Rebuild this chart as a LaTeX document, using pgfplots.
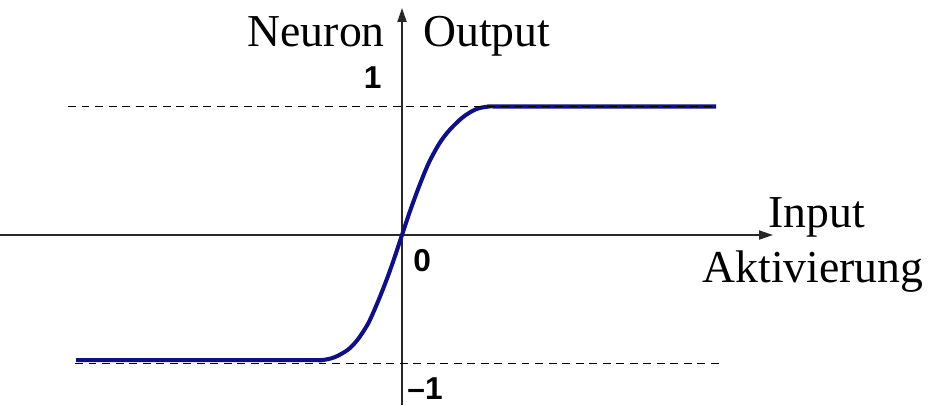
\documentclass[border=0pt]{standalone}
\usepackage{fontspec}
\setmainfont{Liberation Serif}
\newfontfamily\ticksans{Liberation Sans}
\usepackage{pgfplots}
\pgfplotsset{compat=1.18}
\usetikzlibrary{arrows.meta}
\definecolor{curveblue}{RGB}{15,15,135}
\definecolor{axisgray}{RGB}{40,40,40}

\begin{document}
\begin{tikzpicture}
\useasboundingbox (0,0) rectangle (18.74,8.1);
\begin{axis}[
  at={(0,0)}, anchor=south west,
  scale only axis, width=15.46cm, height=7.941cm,
  xmin=-4.02, xmax=3.71, ymin=-1.323, ymax=1.767,
  axis lines=middle,
  axis line style={axisgray, line width=1.1pt, -{Triangle[length=0.28cm,width=0.18cm]}},
  xtick=\empty, ytick=\empty,
  clip=false,
]
% activation curve (saturating sigmoid)
\addplot[curveblue, line width=2.3pt, smooth, tension=0.5] coordinates {
  (-3.26,-0.974) (-1.01,-0.974) (-0.81,-0.974) (-0.677,-0.952)
  (-0.543,-0.894) (-0.443,-0.814) (-0.343,-0.695) (-0.277,-0.585)
  (-0.210,-0.460) (-0.143,-0.325) (-0.077,-0.180) (0,0)
  (0.073,0.170) (0.140,0.315) (0.207,0.450)
  (0.273,0.570) (0.373,0.712) (0.473,0.815) (0.607,0.916)
  (0.740,0.979) (0.873,1.0) (1.04,1.0) (3.14,1.0)
};
% saturation levels
\addplot[black, line width=1.1pt, dash pattern=on 4.5pt off 3.2pt] coordinates {(-3.34,1) (3.11,1)};
\addplot[black, line width=1.1pt, dash pattern=on 4.5pt off 3.2pt] coordinates {(-3.27,-1) (3.20,-1)};
\end{axis}
\begin{scope}[x=0.02cm, y=-0.02cm, yshift=8.1cm]
  \node[anchor=base east, inner sep=0pt] at (385,46) {\fontsize{26}{30}\selectfont Neuron};
  \node[anchor=base west, inner sep=0pt] at (423,46) {\fontsize{26}{30}\selectfont Output};
  \node[anchor=base west, inner sep=0pt] at (768,227) {\fontsize{26}{30}\selectfont Input};
  \node[anchor=base west, inner sep=0pt] at (702,282) {\fontsize{26}{30}\selectfont Aktivierung};
  \node[inner sep=0pt] at (372.5,78) {\ticksans\bfseries\fontsize{18}{20}\selectfont 1};
  \node[inner sep=0pt] at (422,261) {\ticksans\bfseries\fontsize{18}{20}\selectfont 0};
  \node[anchor=base west, inner sep=0pt] at (407,399) {\ticksans\bfseries\fontsize{18}{20}\selectfont \textendash1};
\end{scope}
\end{tikzpicture}
\end{document}
